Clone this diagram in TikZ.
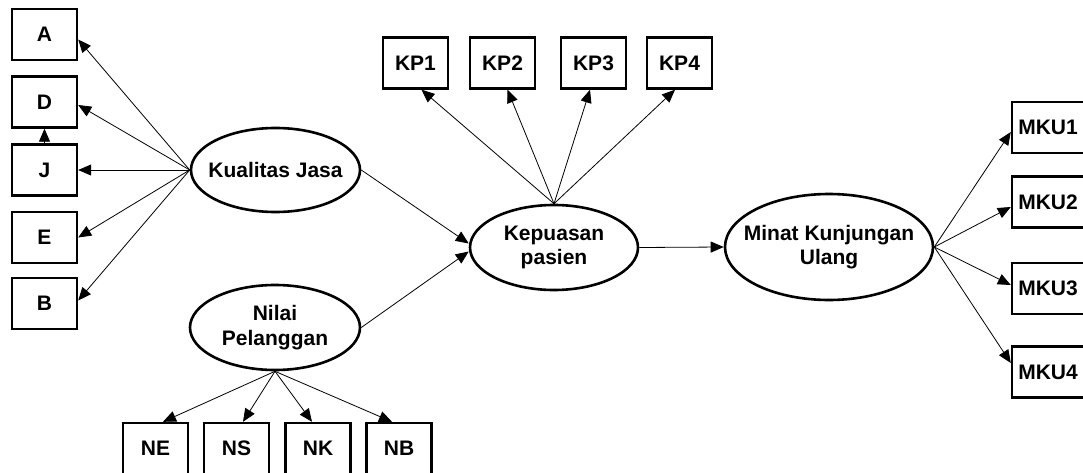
\documentclass[tikz,border=0pt]{standalone}
\usepackage{fontspec}
\setmainfont{Liberation Sans}
\usetikzlibrary{shapes.geometric,arrows.meta}
\begin{document}
\begin{tikzpicture}[x=1pt,y=-1pt,
  txt/.style={font=\fontsize{21}{24.5}\selectfont\bfseries},
  box/.style={draw, line width=2.4pt, minimum width=65pt, minimum height=51pt, inner sep=0pt, txt},
  latent/.style={draw, ellipse, line width=2.6pt, inner sep=0pt},
  lbl/.style={txt, align=center, inner sep=0pt},
  conn/.style={line width=0.8pt, -{Triangle[length=13pt,width=11pt]}}]
\useasboundingbox (0,0) rectangle (1083,473);
\clip (0,0) rectangle (1083,473);
% indicator boxes left
\node[box] (A) at (44.5,34.5) {A};
\node[box] (D) at (44.5,102) {D};
\node[box] (J) at (44.5,170) {J};
\node[box] (E) at (44.5,237.5) {E};
\node[box] (B) at (44.5,303.5) {B};
% KP boxes
\node[box] (KP1) at (415.5,63) {KP1};
\node[box] (KP2) at (502.5,63) {KP2};
\node[box] (KP3) at (593.5,63) {KP3};
\node[box] (KP4) at (679.5,63) {KP4};
% N boxes
\node[box] (NE) at (155.5,448.5) {NE};
\node[box] (NS) at (236.5,448.5) {NS};
\node[box] (NK) at (318,448.5) {NK};
\node[box] (NB) at (399,448.5) {NB};
% MKU boxes
\node[box, minimum width=72pt] (MKU1) at (1048,127.5) {MKU1};
\node[box, minimum width=72pt] (MKU2) at (1048,202) {MKU2};
\node[box, minimum width=72pt] (MKU3) at (1048,288.5) {MKU3};
\node[box, minimum width=72pt] (MKU4) at (1048,372) {MKU4};
% latent variables
\node[latent, minimum width=169pt, minimum height=84pt, label={[lbl,name=kjt]center:Kualitas Jasa}] (kj) at (275.5,170) {};
\node[latent, minimum width=170pt, minimum height=85pt, label={[lbl,name=npt]center:Nilai\\Pelanggan}] (np) at (275,327.5) {};
\node[latent, minimum width=168pt, minimum height=85pt, label={[lbl,name=kpt]center:Kepuasan\\pasien}] (kp) at (554,247.5) {};
\node[latent, minimum width=208pt, minimum height=106pt, label={[lbl,name=mkt]center:Minat Kunjungan\\Ulang}] (mk) at (829,247) {};
% connectors
\draw[conn] (kj.west) -- ([yshift=-5pt]A.east);
\draw[conn] (kj.west) -- ([yshift=-3pt]D.east);
\draw[conn] (kj.west) -- (J.east);
\draw[conn] (kj.west) -- (E.east);
\draw[conn] (kj.west) -- ([yshift=3pt]B.east);
\draw[conn] (J.north) -- (D.south);
\draw[conn] (kp.north) -- ([xshift=6pt]KP1.south);
\draw[conn] (kp.north) -- ([xshift=5pt]KP2.south);
\draw[conn] (kp.north) -- ([xshift=-3.5pt]KP3.south);
\draw[conn] (kp.north) -- ([xshift=-4.5pt]KP4.south);
\draw[conn] (np.south) -- ([xshift=7.5pt]NE.north);
\draw[conn] (np.south) -- ([xshift=6.5pt]NS.north);
\draw[conn] (np.south) -- ([xshift=-6pt]NK.north);
\draw[conn] (np.south) -- ([xshift=-7pt]NB.north);
\draw[conn] (kj.east) -- ([yshift=4pt]kp.west);
\draw[conn] (np.east) -- ([yshift=-4pt]kp.west);
\draw[conn] (kp.east) -- (mk.west);
\draw[conn] (mk.east) -- ([yshift=-4.5pt]MKU1.west);
\draw[conn] (mk.east) -- ([yshift=-5pt]MKU2.west);
\draw[conn] (mk.east) -- ([yshift=3.5pt]MKU3.west);
\draw[conn] (mk.east) -- ([yshift=9pt]MKU4.west);
\end{tikzpicture}
\end{document}
